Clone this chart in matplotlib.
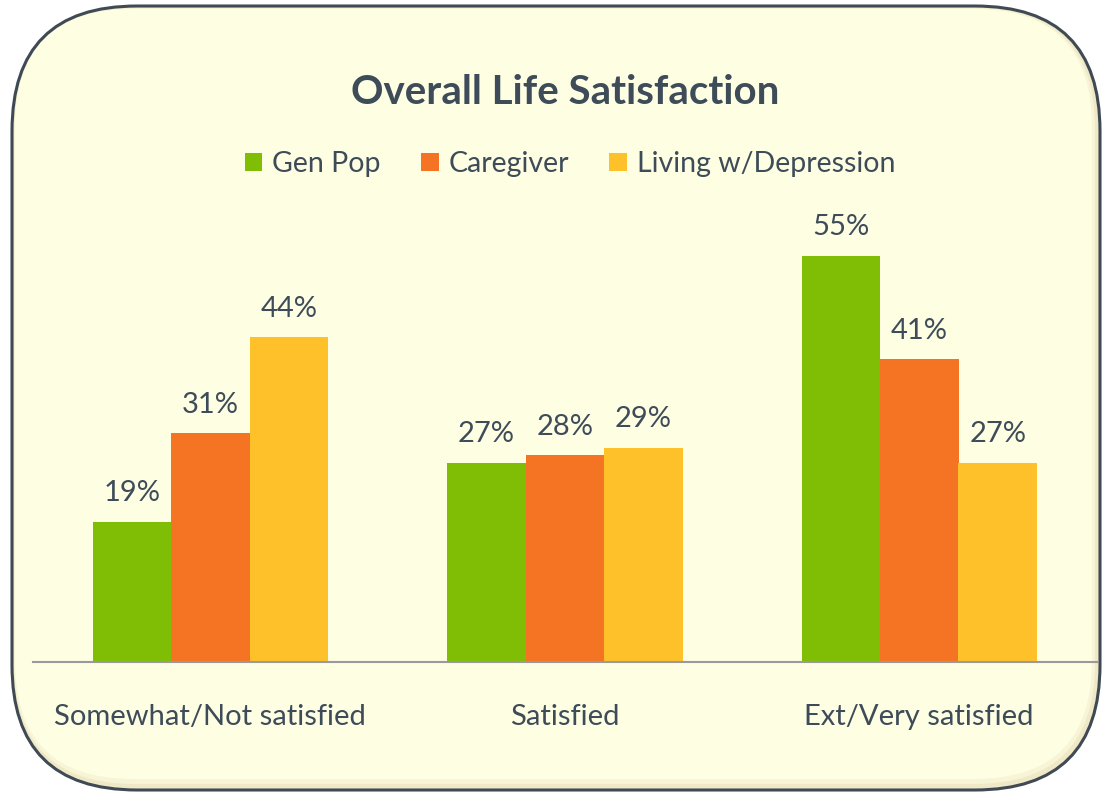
import matplotlib.pyplot as plt
from matplotlib.patches import FancyBboxPatch, Patch
import numpy as np

categories = ["Somewhat/Not satisfied", "Satisfied", "Ext/Very satisfied"]
series_names = ["Gen Pop", "Caregiver", "Living w/Depression"]
gen_pop = [19, 27, 55]
caregiver = [31, 28, 41]
living_dep = [44, 29, 27]
colors = ["#80BE06", "#F57423", "#FFC12A"]
text_col = "#3E4C59"

plt.rcParams['font.family'] = ['Lato', 'DejaVu Sans']

fig = plt.figure(figsize=(11.06, 7.94), dpi=100)
fig.patch.set_facecolor("white")

# background card (pixel coords)
bg = fig.add_axes([0, 0, 1, 1], zorder=0)
bg.set_xlim(0, 1106)
bg.set_ylim(794, 0)
bg.axis('off')
# soft inner shadow, then main fill, then border
bg.add_patch(FancyBboxPatch((12, 6), 1088, 784, boxstyle="round,pad=0,rounding_size=125",
                            facecolor="#EFE9C8", edgecolor="none"))
bg.add_patch(FancyBboxPatch((14, 8), 1081, 776, boxstyle="round,pad=0,rounding_size=121",
                            facecolor="#F8F5D6", edgecolor="none"))
bg.add_patch(FancyBboxPatch((15, 9), 1077, 770, boxstyle="round,pad=0,rounding_size=118",
                            facecolor="#FEFEE3", edgecolor="none"))
bg.add_patch(FancyBboxPatch((12, 6), 1088, 784, boxstyle="round,pad=0,rounding_size=125",
                            facecolor="none", edgecolor="#3F4A55", linewidth=2.2))

# chart
ax = fig.add_axes([33 / 1106, (794 - 662) / 794, 1063.5 / 1106, 443 / 794], zorder=1)
ax.patch.set_alpha(0)
x = np.arange(len(categories))
w = 78.5 / 354.5
for i, (vals, name) in enumerate(zip([gen_pop, caregiver, living_dep], series_names)):
    pos = x + (i - 1) * w
    bars = ax.bar(pos, vals, width=w, color=colors[i], label=name)
    for p, v in zip(pos, vals):
        ax.text(p, v + 3.85, f"{v}%", ha='center', va='center', fontsize=21, color=text_col)

ax.set_xlim(-0.5, 2.5)
ax.set_ylim(0, 60)
for s in ['top', 'right', 'left']:
    ax.spines[s].set_visible(False)
ax.spines['bottom'].set_color("#9A9A9A")
ax.spines['bottom'].set_linewidth(1.5)
ax.set_yticks([])
ax.set_xticks(x)
ax.set_xticklabels(categories, fontsize=21, color=text_col)
ax.tick_params(axis='x', length=0, pad=30)

fig.text(565 / 1106, 1 - 92 / 794, "Overall Life Satisfaction", ha='center', va='center',
         fontsize=29, fontweight='bold', color=text_col)

handles = [Patch(facecolor=c, edgecolor='none') for c in colors]
fig.legend(handles, series_names, loc='center', bbox_to_anchor=(570 / 1106, 1 - 164 / 794),
           ncol=3, frameon=False, fontsize=20.5, handlelength=0.63, handleheight=0.63,
           handletextpad=0.35, columnspacing=1.4, labelcolor=text_col)

fig.savefig("out.png", dpi=100)
